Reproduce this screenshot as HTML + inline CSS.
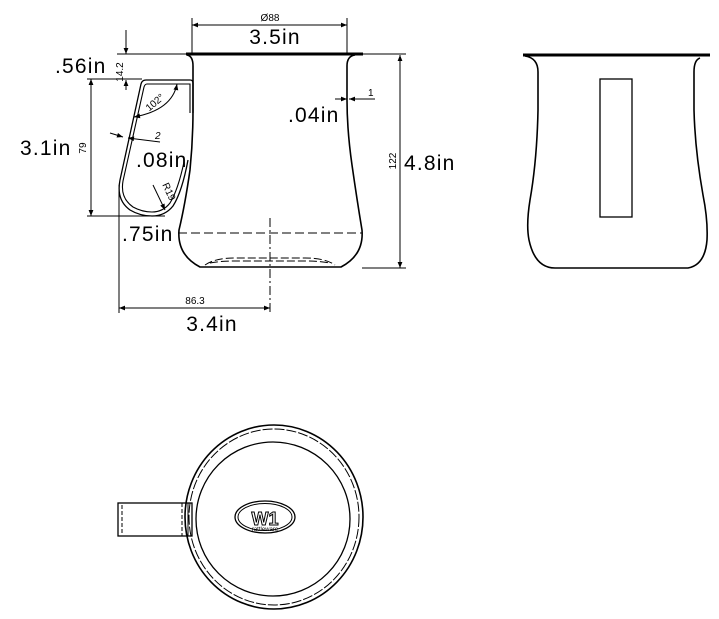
<!DOCTYPE html>
<html><head><style>
html,body{margin:0;padding:0;background:#fff;}
svg{display:block;}
text{font-family:"Liberation Sans",sans-serif;fill:#000;}
.big{font-size:21px;letter-spacing:1.2px;}
.sm{font-size:10px;}
</style></head><body>
<svg width="719" height="619" viewBox="0 0 719 619" xmlns="http://www.w3.org/2000/svg">
<defs>
<marker id="a" viewBox="0 0 10 10" refX="10" refY="5" markerWidth="8" markerHeight="6" orient="auto-start-reverse"><path d="M0,1 L10,5 L0,9 z" fill="#000"/></marker>
</defs>
<g fill="none" stroke="#000" stroke-width="1">
<line x1="186" y1="54" x2="363" y2="54" stroke-width="3"/>
<path d="M187,55 Q193,56 193,66 L193,110 Q193,140 190,170 Q185,205 179,230 Q177,255 200,267 L341,267 Q364,255 362,230 Q357,200 352,165 Q347,130 347,100 L347,66 Q347,56 355,55" stroke-width="1.6"/>
<!-- handle -->
<path d="M193,113 L193,83 Q193,80 190,80 L146,80 Q142,80 141,84 L120,180 Q116,200 130,210 Q140,216 152,216 Q165,216 173,206 Q182,192 188,160" stroke-width="1.3"/>
<path d="M190,113 L190,84 L147,84 Q145,84 144,87 L123,181 Q120,198 133,207 Q142,212 152,212 Q163,212 170,203 Q178,190 184,162" stroke-width="1.1"/>
<line x1="178" y1="233" x2="362" y2="233" stroke-dasharray="9,4"/>
<line x1="270" y1="218" x2="270" y2="312" stroke-dasharray="9,3,2,3"/>
<path d="M205,265 Q215,258 235,258 L305,258 Q325,258 335,265" stroke-dasharray="8,3"/>
<path d="M210,263 Q220,261 235,261 L305,261 Q320,261 330,263" stroke-dasharray="8,3"/>
<line x1="192" y1="18" x2="192" y2="54"/>
<line x1="347" y1="18" x2="347" y2="54"/>
<line x1="192" y1="25" x2="347" y2="25" marker-start="url(#a)" marker-end="url(#a)"/>
<line x1="117" y1="54" x2="187" y2="54"/>
<line x1="126" y1="30" x2="126" y2="54" marker-end="url(#a)"/>
<line x1="126" y1="90" x2="126" y2="80" marker-end="url(#a)"/>
<line x1="87" y1="79" x2="142" y2="79"/>
<line x1="87" y1="216" x2="165" y2="216"/>
<line x1="91" y1="79" x2="91" y2="216" marker-start="url(#a)" marker-end="url(#a)"/>
<path d="M134,117 Q172,110 177,84" marker-start="url(#a)" marker-end="url(#a)"/>
<line x1="110" y1="133" x2="123" y2="137" marker-end="url(#a)"/>
<line x1="160" y1="142" x2="128" y2="138" marker-end="url(#a)"/>
<line x1="153" y1="185" x2="165" y2="210" marker-end="url(#a)"/>
<line x1="335" y1="99" x2="347" y2="99" marker-end="url(#a)"/>
<line x1="375" y1="99" x2="349" y2="99" marker-end="url(#a)"/>
<line x1="119" y1="185" x2="119" y2="313"/>
<line x1="119" y1="308" x2="270" y2="308" marker-start="url(#a)" marker-end="url(#a)"/>
<line x1="363" y1="54" x2="406" y2="54"/>
<line x1="362" y1="268" x2="406" y2="268"/>
<line x1="400" y1="55" x2="400" y2="268" marker-start="url(#a)" marker-end="url(#a)"/>
<line x1="523" y1="55" x2="710" y2="55" stroke-width="3"/>
<path d="M525,56 Q538,58 538,72 L538,110 Q537,160 530,200 Q526,225 529,240 Q535,268 555,268 L688,268 Q705,265 707,240 Q708,220 703,195 Q695,150 694,110 L694,72 Q694,60 700,58" stroke-width="1.6"/>
<rect x="600" y="79" width="32" height="138" stroke-width="1.3"/>
<ellipse cx="274" cy="517" rx="89" ry="92" stroke-width="1.6"/>
<ellipse cx="274" cy="517" rx="85" ry="88" stroke-dasharray="10,2"/>
<ellipse cx="273" cy="519" rx="77" ry="77" stroke-width="1.3"/>
<rect x="118" y="503" width="74" height="33" stroke-width="1.3"/>
<line x1="122" y1="505" x2="122" y2="534" stroke-dasharray="4,2"/>
<line x1="182" y1="503" x2="182" y2="536" stroke-dasharray="4,2"/>
<line x1="188" y1="503" x2="188" y2="536"/>
<ellipse cx="265" cy="517" rx="30" ry="16" stroke-width="1.3"/>
<ellipse cx="265" cy="517" rx="27" ry="13.5"/>
</g>
<text x="265" y="525" style="font-size:18px;font-weight:bold;fill:#fff;stroke:#000;stroke-width:1" text-anchor="middle">W1</text>
<text x="265" y="531" style="font-size:6px" text-anchor="middle">rattleware</text>
<text x="270" y="21" class="sm" text-anchor="middle">Ø88</text>
<text x="275" y="44" class="big" text-anchor="middle">3.5in</text>
<text x="55" y="73" class="big">.56in</text>
<text x="123" y="72" class="sm" transform="rotate(-90 123 72)" text-anchor="middle">14.2</text>
<text x="20" y="155" class="big">3.1in</text>
<text x="86" y="148" class="sm" transform="rotate(-90 86 148)" text-anchor="middle">79</text>
<text x="157" y="105" class="sm" transform="rotate(-40 157 105)" text-anchor="middle">102°</text>
<text x="155" y="139" class="sm" style="font-style:italic">2</text>
<text x="136" y="167" class="big">.08in</text>
<text x="166" y="193" class="sm" transform="rotate(65 166 193)" text-anchor="middle">R19</text>
<text x="288" y="122" class="big">.04in</text>
<text x="368" y="96" class="sm">1</text>
<text x="122" y="241" class="big">.75in</text>
<text x="195" y="304" class="sm" text-anchor="middle">86.3</text>
<text x="212" y="331" class="big" text-anchor="middle">3.4in</text>
<text x="396" y="161" class="sm" transform="rotate(-90 396 161)" text-anchor="middle">122</text>
<text x="404" y="170" class="big">4.8in</text>
</svg>
</body></html>
